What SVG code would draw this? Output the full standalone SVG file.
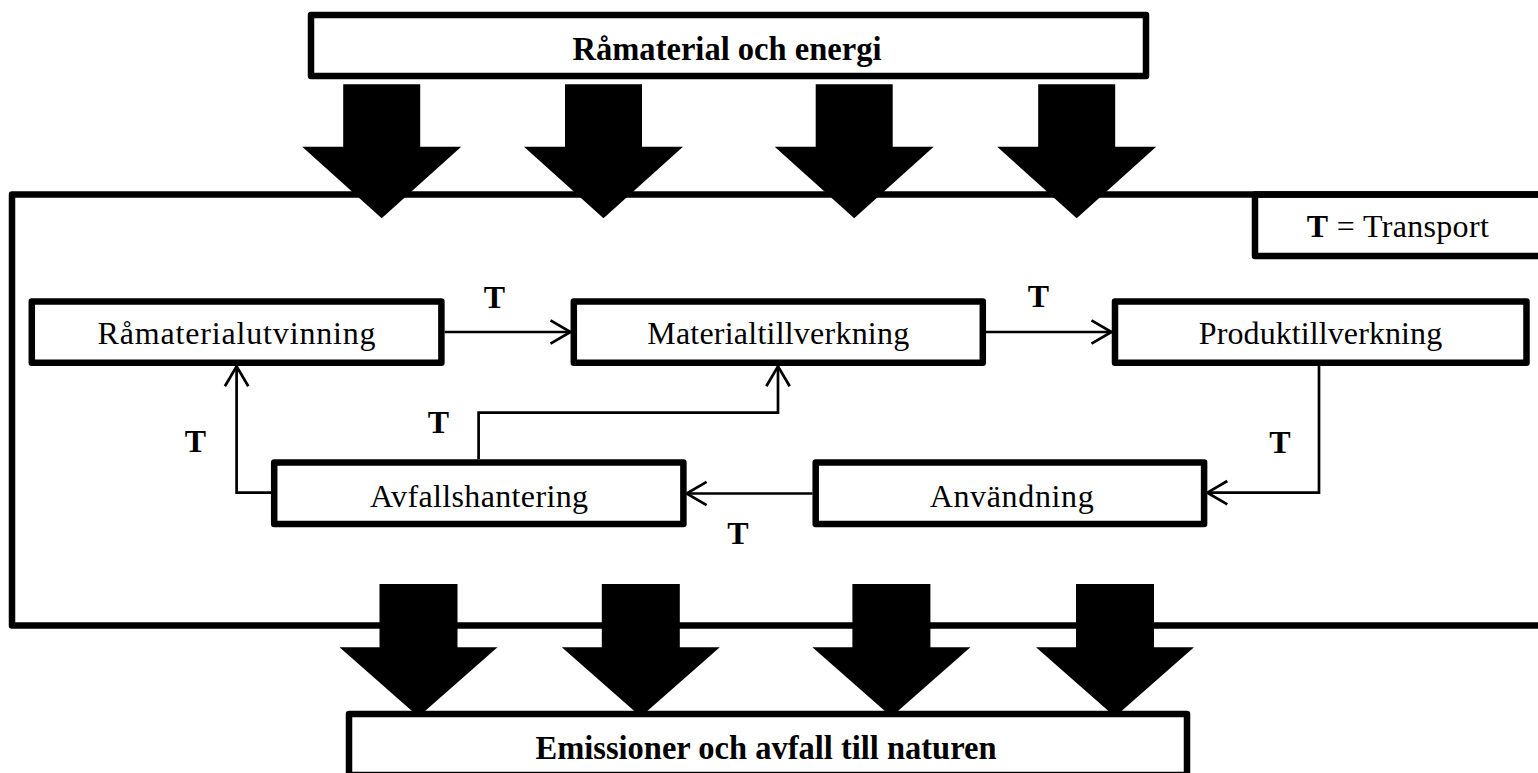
<svg xmlns="http://www.w3.org/2000/svg" width="1538" height="773" viewBox="0 0 1538 773">
  <style>
    .frame { fill: none; stroke: #000; stroke-width: 6.5; stroke-linejoin: round; }
    .box { fill: #fff; stroke: #000; stroke-width: 6.5; stroke-linejoin: round; }
    .conn { fill: none; stroke: #000; stroke-width: 2.7; }
    .lbl { font-family: "Liberation Serif", "Times New Roman", serif; font-size: 32px; fill: #000; text-anchor: middle; }
    .b { font-weight: bold; }
    .title { font-size: 34px; }
  </style>
  <defs>
    <polygon id="arrowTop" points="-38.5,0 38.5,0 38.5,62.5 79.5,62.5 0,134 -79.5,62.5 -38.5,62.5" fill="#000"/>
    <polygon id="arrowBot" points="-39,0 39,0 39,63.3 79,63.3 0,132.7 -79,63.3 -39,63.3" fill="#000"/>
    <marker id="ah" markerUnits="userSpaceOnUse" markerWidth="30" markerHeight="30" viewBox="-25 -15 30 30" refX="0" refY="0" orient="auto">
      <path d="M-20,-11.7 L0,0 L-20,11.7" fill="none" stroke="#000" stroke-width="2.7"/>
    </marker>
  </defs>

  <!-- system boundary -->
  <g id="system">
    <path class="frame" d="M1545,194.5 H12 V625.5 H1545"/>
  </g>

  <!-- legend -->
  <g id="legend">
    <path class="frame" d="M1545,194.5 H1255 V256 H1545"/>
    <text class="lbl" x="1306.8" y="237.3" style="text-anchor:start" textLength="182" lengthAdjust="spacing"><tspan class="b">T</tspan> = Transport</text>
  </g>

  <!-- input box -->
  <g id="input">
    <rect class="box" x="311" y="15" width="835" height="61"/>
    <text class="lbl b title" x="727" y="59.5" textLength="309" lengthAdjust="spacingAndGlyphs">Råmaterial och energi</text>
  </g>

  <!-- output box -->
  <g id="output">
    <rect class="box" x="349" y="714" width="838" height="61"/>
    <text class="lbl b title" x="766" y="758.5" textLength="461" lengthAdjust="spacingAndGlyphs">Emissioner och avfall till naturen</text>
  </g>

  <!-- big flow arrows -->
  <g id="inflows">
    <use href="#arrowTop" transform="translate(381.7,84.3)"/>
    <use href="#arrowTop" transform="translate(603.5,84.3)"/>
    <use href="#arrowTop" transform="translate(854.2,84.3)"/>
    <use href="#arrowTop" transform="translate(1076.7,84.3)"/>
  </g>
  <g id="outflows">
    <use href="#arrowBot" transform="translate(418.5,584)"/>
    <use href="#arrowBot" transform="translate(640.8,584)"/>
    <use href="#arrowBot" transform="translate(891.4,584)"/>
    <use href="#arrowBot" transform="translate(1115,584)"/>
  </g>

  <!-- connectors -->
  <g id="connectors">
    <path class="conn" d="M444.6,332 H570.5" marker-end="url(#ah)"/>
    <path class="conn" d="M985.8,332 H1111.5" marker-end="url(#ah)"/>
    <path class="conn" d="M1319,366 V492.7 H1207.3" marker-end="url(#ah)"/>
    <path class="conn" d="M812.5,493.5 H686.6" marker-end="url(#ah)"/>
    <path class="conn" d="M271,492.7 H236.6 V366.3" marker-end="url(#ah)"/>
    <path class="conn" d="M478.6,459.3 V412.7 H778 V366.3" marker-end="url(#ah)"/>
    <text class="lbl b" x="494.5" y="308">T</text>
    <text class="lbl b" x="1038.5" y="306.7">T</text>
    <text class="lbl b" x="1280" y="453.3">T</text>
    <text class="lbl b" x="738" y="544">T</text>
    <text class="lbl b" x="195.5" y="451.7">T</text>
    <text class="lbl b" x="438.4" y="433.3">T</text>
  </g>

  <!-- process nodes -->
  <g id="ramaterialutvinning">
    <rect class="box" x="31.8" y="301.5" width="409.6" height="61.3"/>
    <text class="lbl" x="236.6" y="344" textLength="278" lengthAdjust="spacing">Råmaterialutvinning</text>
  </g>
  <g id="materialtillverkning">
    <rect class="box" x="573.8" y="301.5" width="409" height="61.3"/>
    <text class="lbl" x="778.2" y="344" textLength="262" lengthAdjust="spacing">Materialtillverkning</text>
  </g>
  <g id="produktillverkning">
    <rect class="box" x="1115" y="301.5" width="411.5" height="61.3"/>
    <text class="lbl" x="1320.5" y="344" textLength="243.4" lengthAdjust="spacing">Produktillverkning</text>
  </g>
  <g id="avfallshantering">
    <rect class="box" x="274.2" y="462.6" width="409.2" height="61.4"/>
    <text class="lbl" x="479" y="506.7" textLength="218" lengthAdjust="spacing">Avfallshantering</text>
  </g>
  <g id="anvandning">
    <rect class="box" x="815.7" y="462.6" width="388.4" height="61.4"/>
    <text class="lbl" x="1011.7" y="506.7" textLength="164" lengthAdjust="spacing">Användning</text>
  </g>
</svg>
